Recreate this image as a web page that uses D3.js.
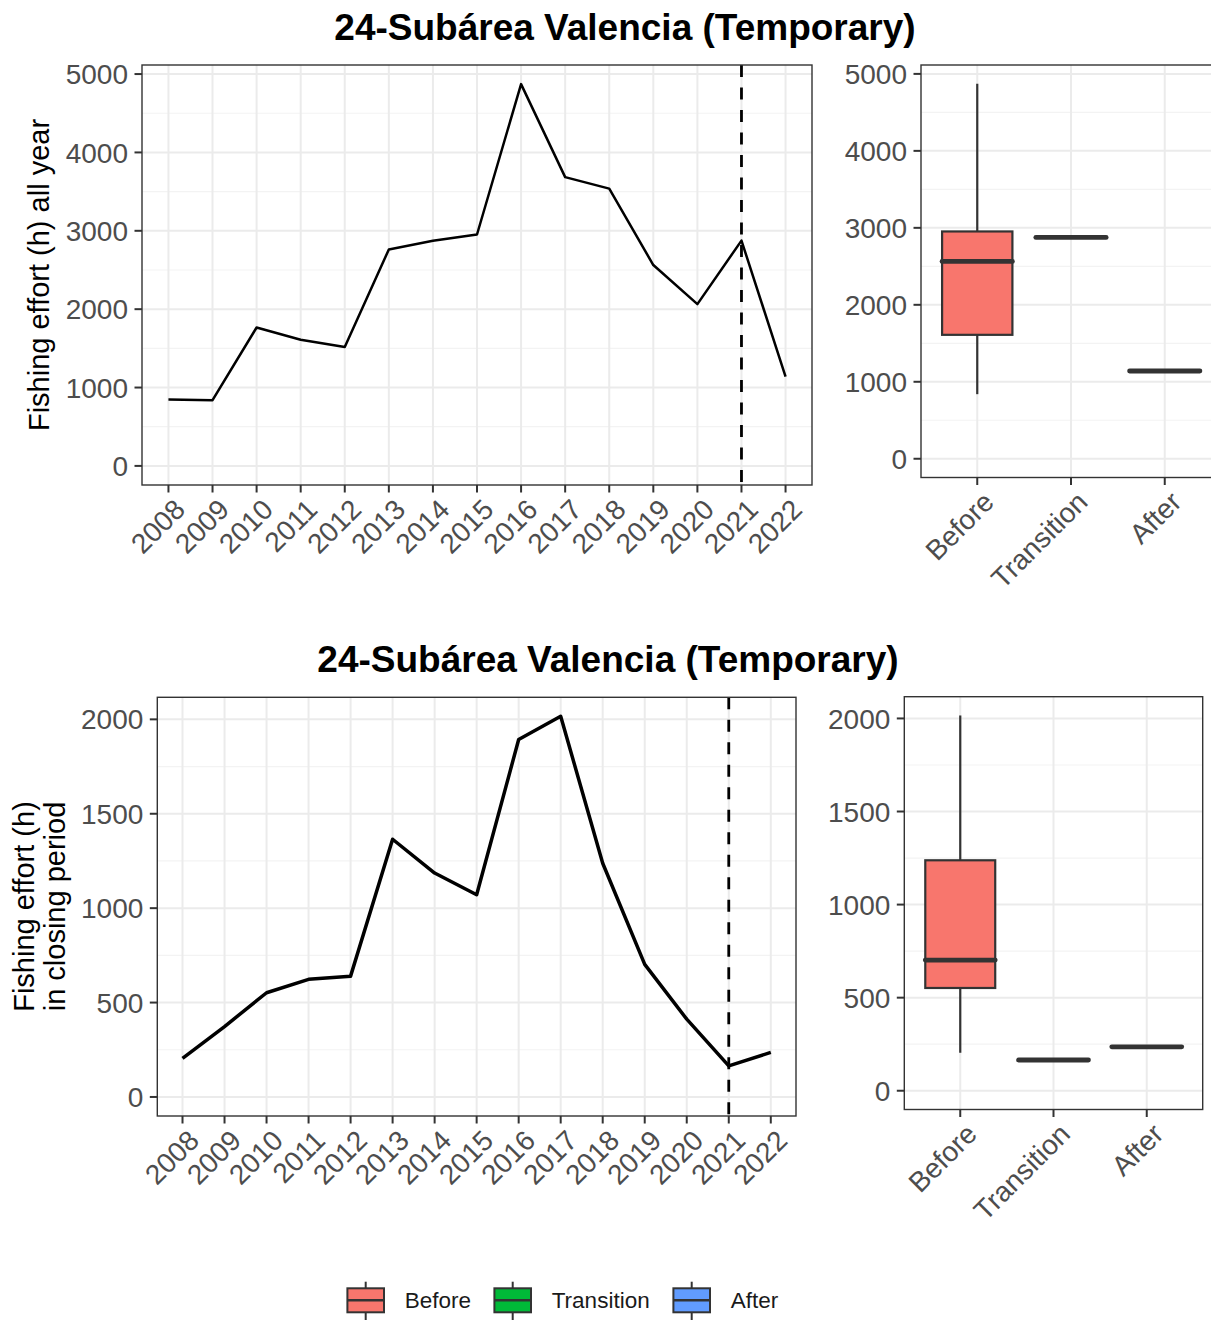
<!DOCTYPE html>
<html lang="en">
<head>
    <meta charset="UTF-8">
    <title>24-Subárea Valencia (Temporary)</title>
    <script src="https://d3js.org/d3.v7.min.js"></script>
    <style>
        body { margin: 0; background: #fff; }
        svg { display: block; font-family: "Liberation Sans", Arial, Helvetica, sans-serif; }
        .grid-major { stroke: #EBEBEB; stroke-width: 2; }
        .grid-minor { stroke: #F3F3F3; stroke-width: 1.2; }
        .border { fill: none; stroke: #333333; stroke-width: 1.4; }
        .tick { stroke: #333333; stroke-width: 2; }
        .tick-label { fill: #4D4D4D; font-size: 28px; }
        .axis-title { fill: #000; font-size: 29px; }
        .title { fill: #000; font-size: 37px; font-weight: bold; }
        .legend-label { fill: #1A1A1A; font-size: 22.5px; }
    </style>
</head>
<body>
<svg width="1211" height="1320"></svg>
<script>
    // values
    const years = ["2008", "2009", "2010", "2011", "2012", "2013", "2014", "2015",
                   "2016", "2017", "2018", "2019", "2020", "2021", "2022"];
    const yearPeriod = ["Before", "Before", "Before", "Before", "Before", "Before", "Before", "Before",
                        "Before", "Before", "Before", "Before", "Before", "Transition", "After"];
    const effortAllYear = [847, 839, 1766, 1610, 1517, 2762, 2872, 2953, 4872, 3685, 3538, 2563, 2064, 2875, 1140];
    const effortClosing = [204, 373, 552, 623, 640, 1365, 1186, 1071, 1893, 2016, 1238, 702, 412, 165, 236];
    const periods = ["Before", "Transition", "After"];
    const periodColors = ["#F8766D", "#00BA38", "#619CFF"];
    const ticksAllYear = [0, 1000, 2000, 3000, 4000, 5000];
    const ticksClosing = [0, 500, 1000, 1500, 2000];
    const changeYear = "2021";
    const plotTitle = "24-Subárea Valencia (Temporary)";

    const svg = d3.select("svg");
    const color = d3.scaleOrdinal().domain(periods).range(periodColors);

    // y scale like ggplot: limits [0, max] with 5% expansion
    function makeY(values, top, bottom) {
        const max = d3.max(values);
        return d3.scaleLinear().domain([-0.05 * max, 1.05 * max]).range([bottom, top]);
    }

    function minorTicks(ticks) {
        const out = [];
        for (let i = 0; i < ticks.length; i++) {
            const step = ticks[1] - ticks[0];
            out.push(ticks[i] - step / 2);
            if (i === ticks.length - 1) out.push(ticks[i] + step / 2);
        }
        return out;
    }

    function drawFrame(g, x, y, box, yTicks) {
        const { left, right, top, bottom } = box;
        g.selectAll(".grid-minor").data(minorTicks(yTicks).filter(v => y(v) > top && y(v) < bottom))
            .enter().append("line").attr("class", "grid-minor")
            .attr("x1", left).attr("x2", right).attr("y1", d => y(d)).attr("y2", d => y(d));
        g.selectAll(".grid-y").data(yTicks).enter().append("line").attr("class", "grid-major")
            .attr("x1", left).attr("x2", right).attr("y1", d => y(d)).attr("y2", d => y(d));
        g.selectAll(".grid-x").data(x.domain()).enter().append("line").attr("class", "grid-major")
            .attr("y1", top).attr("y2", bottom).attr("x1", d => x(d)).attr("x2", d => x(d));

        // y axis
        g.selectAll(".ytick").data(yTicks).enter().append("line").attr("class", "tick")
            .attr("x1", left - 7.5).attr("x2", left).attr("y1", d => y(d)).attr("y2", d => y(d));
        g.selectAll(".ylab").data(yTicks).enter().append("text").attr("class", "tick-label")
            .attr("x", left - 14).attr("y", d => y(d)).attr("dy", "0.36em")
            .attr("text-anchor", "end").text(d => d);

        // x axis, labels at 45 degrees
        g.selectAll(".xtick").data(x.domain()).enter().append("line").attr("class", "tick")
            .attr("y1", bottom).attr("y2", bottom + 7.5).attr("x1", d => x(d)).attr("x2", d => x(d));
        g.selectAll(".xlab").data(x.domain()).enter().append("text").attr("class", "tick-label")
            .attr("text-anchor", "end")
            .attr("transform", d => `translate(${x(d) + 4},${bottom + 12}) rotate(-45)`)
            .attr("dy", "0.72em").text(d => d);
    }

    function drawLinePanel(values, box, yTicks, lineWidth) {
        const g = svg.append("g");
        const x = d3.scalePoint().domain(years).range([box.left, box.right]).padding(0.6);
        const y = makeY(values, box.top, box.bottom);
        drawFrame(g, x, y, box, yTicks);

        const data = years.map((yr, i) => ({ year: yr, value: values[i] }));
        g.append("path").datum(data)
            .attr("fill", "none").attr("stroke", "#000").attr("stroke-width", lineWidth)
            .attr("stroke-linejoin", "round")
            .attr("d", d3.line().x(d => x(d.year)).y(d => y(d.value)));

        g.append("line")
            .attr("x1", x(changeYear)).attr("x2", x(changeYear))
            .attr("y1", box.top).attr("y2", box.bottom)
            .attr("stroke", "#000").attr("stroke-width", 2.8).attr("stroke-dasharray", "12,10.5");

        g.append("rect").attr("class", "border")
            .attr("x", box.left).attr("y", box.top)
            .attr("width", box.right - box.left).attr("height", box.bottom - box.top);
        return g;
    }

    function boxStats(vals) {
        const s = vals.slice().sort(d3.ascending);
        const q1 = d3.quantile(s, 0.25), med = d3.quantile(s, 0.5), q3 = d3.quantile(s, 0.75);
        const iqr = q3 - q1;
        const lo = d3.min(s.filter(v => v >= q1 - 1.5 * iqr));
        const hi = d3.max(s.filter(v => v <= q3 + 1.5 * iqr));
        return { q1, med, q3, lo, hi };
    }

    function drawBoxPanel(values, box, yTicks) {
        const g = svg.append("g");
        const x = d3.scalePoint().domain(periods).range([box.left, box.right]).padding(0.6);
        const y = makeY(values, box.top, box.bottom);
        drawFrame(g, x, y, box, yTicks);

        const stats = periods.map(p => ({
            period: p,
            ...boxStats(values.filter((v, i) => yearPeriod[i] === p))
        }));
        const w = x.step() * 0.75;

        const b = g.selectAll(".box").data(stats).enter().append("g");
        b.append("line")
            .attr("x1", d => x(d.period)).attr("x2", d => x(d.period))
            .attr("y1", d => y(d.hi)).attr("y2", d => y(d.q3))
            .attr("stroke", "#333333").attr("stroke-width", 2.2);
        b.append("line")
            .attr("x1", d => x(d.period)).attr("x2", d => x(d.period))
            .attr("y1", d => y(d.q1)).attr("y2", d => y(d.lo))
            .attr("stroke", "#333333").attr("stroke-width", 2.2);
        b.append("rect")
            .attr("x", d => x(d.period) - w / 2).attr("width", w)
            .attr("y", d => y(d.q3)).attr("height", d => y(d.q1) - y(d.q3))
            .attr("fill", d => color(d.period))
            .attr("stroke", "#333333").attr("stroke-width", 2.2);
        b.append("line")
            .attr("x1", d => x(d.period) - w / 2).attr("x2", d => x(d.period) + w / 2)
            .attr("y1", d => y(d.med)).attr("y2", d => y(d.med))
            .attr("stroke", "#333333").attr("stroke-width", 4.8).attr("stroke-linecap", "round");

        g.append("rect").attr("class", "border")
            .attr("x", box.left).attr("y", box.top)
            .attr("width", box.right - box.left).attr("height", box.bottom - box.top);
        return g;
    }

    // top row
    svg.append("text").attr("class", "title").attr("x", 625).attr("y", 40)
        .attr("text-anchor", "middle").text(plotTitle);
    drawLinePanel(effortAllYear, { left: 142, right: 812, top: 65, bottom: 485 }, ticksAllYear, 2.5);
    drawBoxPanel(effortAllYear, { left: 921, right: 1221, top: 65, bottom: 477.5 }, ticksAllYear);
    svg.append("text").attr("class", "axis-title")
        .attr("transform", "translate(49,275) rotate(-90)")
        .attr("text-anchor", "middle").text("Fishing effort (h) all year");

    // bottom row
    svg.append("text").attr("class", "title").attr("x", 608).attr("y", 672)
        .attr("text-anchor", "middle").text(plotTitle);
    drawLinePanel(effortClosing, { left: 157.3, right: 796, top: 697.3, bottom: 1116 }, ticksClosing, 3.5);
    drawBoxPanel(effortClosing, { left: 904.3, right: 1202.7, top: 696.7, bottom: 1109.5 }, ticksClosing);
    const yt = svg.append("text").attr("class", "axis-title")
        .attr("transform", "translate(0,906.5) rotate(-90)").attr("text-anchor", "middle");
    yt.append("tspan").attr("x", 0).attr("y", 34).text("Fishing effort (h)");
    yt.append("tspan").attr("x", 0).attr("y", 65).text("in closing period");

    // legend
    const legendX = [365.7, 512.7, 691.7];
    const leg = svg.append("g").selectAll("g").data(periods).enter().append("g")
        .attr("transform", (d, i) => `translate(${legendX[i]},1300.3)`);
    leg.append("line").attr("y1", -18.6).attr("y2", 20)
        .attr("stroke", "#333333").attr("stroke-width", 2);
    leg.append("rect").attr("x", -18.3).attr("y", -12).attr("width", 36.6).attr("height", 24)
        .attr("fill", d => color(d)).attr("stroke", "#333333").attr("stroke-width", 2);
    leg.append("line").attr("x1", -18.3).attr("x2", 18.3)
        .attr("stroke", "#333333").attr("stroke-width", 2.4);
    leg.append("text").attr("class", "legend-label")
        .attr("x", 39).attr("dy", "0.36em").text(d => d);
</script>
</body>
</html>
